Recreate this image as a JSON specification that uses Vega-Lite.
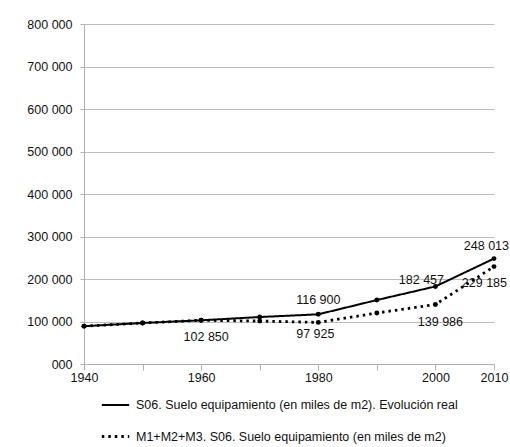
{
  "$schema": "https://vega.github.io/schema/vega-lite/v6.json",
  "width": 410,
  "height": 340,
  "autosize": {"type": "none"},
  "padding": {"left": 84, "top": 24, "right": 16, "bottom": 83},
  "background": "white",
  "config": {
    "font": "Liberation Sans",
    "view": {"stroke": null},
    "axis": {"labelFont": "Liberation Sans", "labelFontSize": 12.5, "labelColor": "#111", "domainColor": "#b0b0b0", "tickColor": "#b0b0b0", "gridColor": "#bcbcbc", "title": null},
    "text": {"font": "Liberation Sans", "fontSize": 12.5, "color": "#111"}
  },
  "data": {
    "values": [
      {"year": 1940, "series": "S06. Suelo equipamiento (en miles de m2). Evolución real", "value": 89000},
      {"year": 1950, "series": "S06. Suelo equipamiento (en miles de m2). Evolución real", "value": 96500},
      {"year": 1960, "series": "S06. Suelo equipamiento (en miles de m2). Evolución real", "value": 102850},
      {"year": 1970, "series": "S06. Suelo equipamiento (en miles de m2). Evolución real", "value": 110500},
      {"year": 1980, "series": "S06. Suelo equipamiento (en miles de m2). Evolución real", "value": 116900, "show": "a"},
      {"year": 1990, "series": "S06. Suelo equipamiento (en miles de m2). Evolución real", "value": 150500},
      {"year": 2000, "series": "S06. Suelo equipamiento (en miles de m2). Evolución real", "value": 182457, "show": "b"},
      {"year": 2010, "series": "S06. Suelo equipamiento (en miles de m2). Evolución real", "value": 248013, "show": "c"},
      {"year": 1940, "series": "M1+M2+M3. S06. Suelo equipamiento (en miles de m2)", "value": 89000},
      {"year": 1950, "series": "M1+M2+M3. S06. Suelo equipamiento (en miles de m2)", "value": 96500},
      {"year": 1960, "series": "M1+M2+M3. S06. Suelo equipamiento (en miles de m2)", "value": 102850, "show": "d"},
      {"year": 1970, "series": "M1+M2+M3. S06. Suelo equipamiento (en miles de m2)", "value": 101000},
      {"year": 1980, "series": "M1+M2+M3. S06. Suelo equipamiento (en miles de m2)", "value": 97925, "show": "e"},
      {"year": 1990, "series": "M1+M2+M3. S06. Suelo equipamiento (en miles de m2)", "value": 120000},
      {"year": 2000, "series": "M1+M2+M3. S06. Suelo equipamiento (en miles de m2)", "value": 139986, "show": "d"},
      {"year": 2010, "series": "M1+M2+M3. S06. Suelo equipamiento (en miles de m2)", "value": 229185, "show": "f"}
    ]
  },
  "transform": [
    {"calculate": "replace(format(datum.value, ','), ',', ' ')", "as": "label"}
  ],
  "encoding": {
    "x": {
      "field": "year", "type": "quantitative",
      "scale": {"domain": [1940, 2010], "nice": false, "zero": false},
      "axis": {"values": [1940, 1950, 1960, 1970, 1980, 1990, 2000, 2010], "grid": false, "tickSize": 6, "labelPadding": 1,
               "labelExpr": "(datum.value == 1950 || datum.value == 1970 || datum.value == 1990) ? '' : datum.value + ''", "labelFlush": false, "labelOverlap": false}
    },
    "y": {
      "field": "value", "type": "quantitative",
      "scale": {"domain": [0, 800000], "nice": false},
      "axis": {"values": [0, 100000, 200000, 300000, 400000, 500000, 600000, 700000, 800000], "tickSize": 4, "labelPadding": 8,
               "labelExpr": "datum.value == 0 ? '000' : replace(format(datum.value, ','), ',', ' ')"}
    }
  },
  "layer": [
    {
      "mark": {"type": "line", "color": "black", "strokeCap": "butt"},
      "encoding": {
        "strokeDash": {
          "field": "series", "type": "nominal",
          "scale": {"domain": ["S06. Suelo equipamiento (en miles de m2). Evolución real", "M1+M2+M3. S06. Suelo equipamiento (en miles de m2)"], "range": [[1, 0], [2.5, 4]]},
          "legend": {"orient": "none", "legendX": 16, "legendY": 366, "direction": "vertical", "title": null,
                     "symbolType": "stroke", "symbolSize": 750, "symbolStrokeWidth": 2.5, "symbolStrokeColor": "black",
                     "labelFontSize": 12.5, "labelColor": "#111", "labelFont": "Liberation Sans", "rowPadding": 9, "labelLimit": 420, "labelOffset": 5}
        },
        "strokeWidth": {
          "field": "series", "type": "nominal",
          "scale": {"domain": ["S06. Suelo equipamiento (en miles de m2). Evolución real", "M1+M2+M3. S06. Suelo equipamiento (en miles de m2)"], "range": [2, 2.8]},
          "legend": null
        }
      }
    },
    {
      "mark": {"type": "point", "filled": true, "color": "black", "size": 24, "opacity": 1}
    },
    {
      "transform": [{"filter": "datum.show == 'a'"}],
      "mark": {"type": "text", "dy": -14},
      "encoding": {"text": {"field": "label"}}
    },
    {
      "transform": [{"filter": "datum.show == 'b'"}],
      "mark": {"type": "text", "dy": -6, "dx": -14},
      "encoding": {"text": {"field": "label"}}
    },
    {
      "transform": [{"filter": "datum.show == 'c'"}],
      "mark": {"type": "text", "dy": -13, "dx": 15, "align": "right"},
      "encoding": {"text": {"field": "label"}}
    },
    {
      "transform": [{"filter": "datum.show == 'd'"}],
      "mark": {"type": "text", "dy": 17, "dx": 5},
      "encoding": {"text": {"field": "label"}}
    },
    {
      "transform": [{"filter": "datum.show == 'e'"}],
      "mark": {"type": "text", "dy": 12, "dx": -3},
      "encoding": {"text": {"field": "label"}}
    },
    {
      "transform": [{"filter": "datum.show == 'f'"}],
      "mark": {"type": "text", "dy": 16, "dx": 13, "align": "right"},
      "encoding": {"text": {"field": "label"}}
    }
  ]
}
